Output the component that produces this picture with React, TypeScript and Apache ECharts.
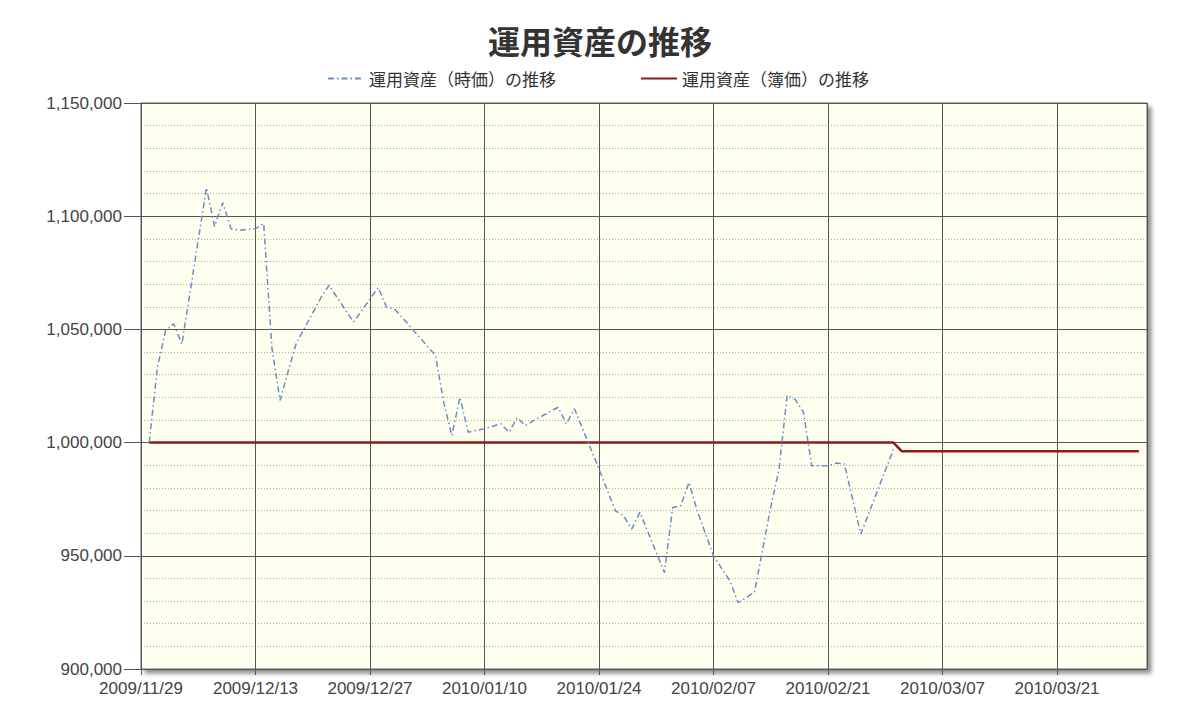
import * as React from "react";
import * as echarts from "echarts";

const chartTitle = "運用資産の推移";
const marketName = "運用資産（時価）の推移";
const bookName = "運用資産（簿価）の推移";

const axisStart = "2009/11/29";
const axisEnd = "2010/04/01";
const tickDays = 14;

const marketDates = [
  "2009/11/30", "2009/12/01", "2009/12/02", "2009/12/03", "2009/12/04",
  "2009/12/07", "2009/12/08", "2009/12/09", "2009/12/10", "2009/12/11",
  "2009/12/13", "2009/12/14", "2009/12/15", "2009/12/16", "2009/12/17",
  "2009/12/18", "2009/12/21", "2009/12/22", "2009/12/24", "2009/12/25",
  "2009/12/28", "2009/12/29", "2009/12/30", "2010/01/04", "2010/01/05",
  "2010/01/06", "2010/01/07", "2010/01/08", "2010/01/10", "2010/01/12",
  "2010/01/13", "2010/01/14", "2010/01/15", "2010/01/16", "2010/01/19",
  "2010/01/20", "2010/01/21", "2010/01/24", "2010/01/26", "2010/01/27",
  "2010/01/28", "2010/01/29", "2010/02/01", "2010/02/02", "2010/02/03",
  "2010/02/04", "2010/02/05", "2010/02/07", "2010/02/09", "2010/02/10",
  "2010/02/12", "2010/02/14", "2010/02/15", "2010/02/16", "2010/02/17",
  "2010/02/18", "2010/02/19", "2010/02/21", "2010/02/22", "2010/02/23",
  "2010/02/25", "2010/03/01",
];
const marketValues = [
  1000000, 1033000, 1049500, 1052500, 1043500,
  1112500, 1095500, 1106000, 1094500, 1093800,
  1094500, 1096800, 1042000, 1018600, 1031500,
  1044000, 1064000, 1069500, 1058500, 1053300,
  1068500, 1059900, 1059100, 1038500, 1018000,
  1003100, 1020000, 1004600, 1006100, 1008300,
  1004600, 1011000, 1007500, 1009700, 1015600,
  1008300, 1014900, 988300, 969900, 967700,
  961800, 969200, 942600, 971300, 972100,
  982400, 969900, 950000, 938900, 929300,
  933800, 971500, 988000, 1020800, 1019000,
  1013400, 989800, 989800, 991000, 990600,
  959600, 997000,
];

const bookDates = ["2009/11/30", "2010/03/01", "2010/03/02", "2010/03/31"];
const bookValues = [1000000, 1000000, 996200, 996200];

const yMin = 900000;
const yMax = 1150000;
const yStep = 50000;

const DAY = 86400000;

function toUtc(s: string) {
  const [y, m, d] = s.split("/").map(Number);
  return Date.UTC(y, m - 1, d);
}

const t0 = toUtc(axisStart);
const dayOf = (s: string) => Math.round((toUtc(s) - t0) / DAY);

function dayLabel(v: number) {
  const d = new Date(t0 + v * DAY);
  const mm = String(d.getUTCMonth() + 1).padStart(2, "0");
  const dd = String(d.getUTCDate()).padStart(2, "0");
  return `${d.getUTCFullYear()}/${mm}/${dd}`;
}

const numFmt = (v: number) => v.toLocaleString("en-US");

const labelFont = "'Liberation Sans', Arial, sans-serif";
const cjkFont = "'Noto Sans CJK JP', sans-serif";

export default function App() {
  const chartRef = React.useRef<HTMLDivElement | null>(null);

  React.useEffect(() => {
    if (!chartRef.current) return;
    const chart = echarts.init(chartRef.current, null, { renderer: "svg" });

    chart.setOption({
      animation: false,
      backgroundColor: "#ffffff",
      title: {
        text: chartTitle,
        left: "center",
        top: 19,
        textStyle: {
          fontFamily: cjkFont,
          fontSize: 32,
          fontWeight: "bold",
          color: "#333333",
        },
      },
      legend: {
        left: 322,
        top: 65,
        itemWidth: 36,
        itemHeight: 14,
        itemGap: 84,
        itemStyle: { opacity: 0 },
        textStyle: { fontFamily: cjkFont, fontSize: 17, color: "#333333" },
        data: [marketName, bookName],
      },
      grid: {
        left: 141,
        right: 53,
        top: 103,
        bottom: 57,
        show: true,
        backgroundColor: "#fffff0",
        borderColor: "#666666",
        borderWidth: 1,
        shadowColor: "rgba(0,0,0,0.45)",
        shadowBlur: 4,
        shadowOffsetX: 4,
        shadowOffsetY: 4,
      },
      xAxis: {
        type: "value",
        min: 0,
        max: dayOf(axisEnd),
        interval: tickDays,
        axisLine: { lineStyle: { color: "#555555", width: 1 } },
        axisTick: { show: true, length: 6, lineStyle: { color: "#555555" } },
        axisLabel: {
          showMaxLabel: false,
          margin: 11,
          fontFamily: labelFont,
          fontSize: 17,
          color: "#444444",
          formatter: (v: number) => dayLabel(v),
        },
        splitLine: { show: true, lineStyle: { color: "#555555", width: 1 } },
      },
      yAxis: {
        type: "value",
        min: yMin,
        max: yMax,
        interval: yStep,
        axisLine: { show: true, lineStyle: { color: "#555555", width: 1 } },
        axisTick: { show: true, length: 17, lineStyle: { color: "#555555" } },
        axisLabel: {
          margin: 19,
          fontFamily: labelFont,
          fontSize: 17,
          color: "#444444",
          formatter: (v: number) => numFmt(v),
        },
        splitLine: { show: true, lineStyle: { color: "#555555", width: 1 } },
        minorTick: { show: false, splitNumber: 5 },
        minorSplitLine: {
          show: true,
          lineStyle: { color: "#aaaaaa", width: 1, type: [1, 2] },
        },
      },
      series: [
        {
          name: marketName,
          type: "line",
          symbol: "none",
          z: 3,
          lineStyle: { color: "#6b8cc7", width: 1.5, type: [6, 3, 1.5, 3] },
          itemStyle: { color: "#6b8cc7" },
          data: marketDates.map((d, i) => [dayOf(d), marketValues[i]]),
        },
        {
          name: bookName,
          type: "line",
          symbol: "none",
          z: 2,
          lineStyle: { color: "#8e1b1b", width: 2.5 },
          itemStyle: { color: "#8e1b1b" },
          data: bookDates.map((d, i) => [dayOf(d), bookValues[i]]),
        },
      ],
    });

    return () => {
      chart.dispose();
    };
  }, []);

  return (
    <div
      ref={chartRef}
      style={{ position: "fixed", left: 0, top: 0, width: 1200, height: 726 }}
    />
  );
}
